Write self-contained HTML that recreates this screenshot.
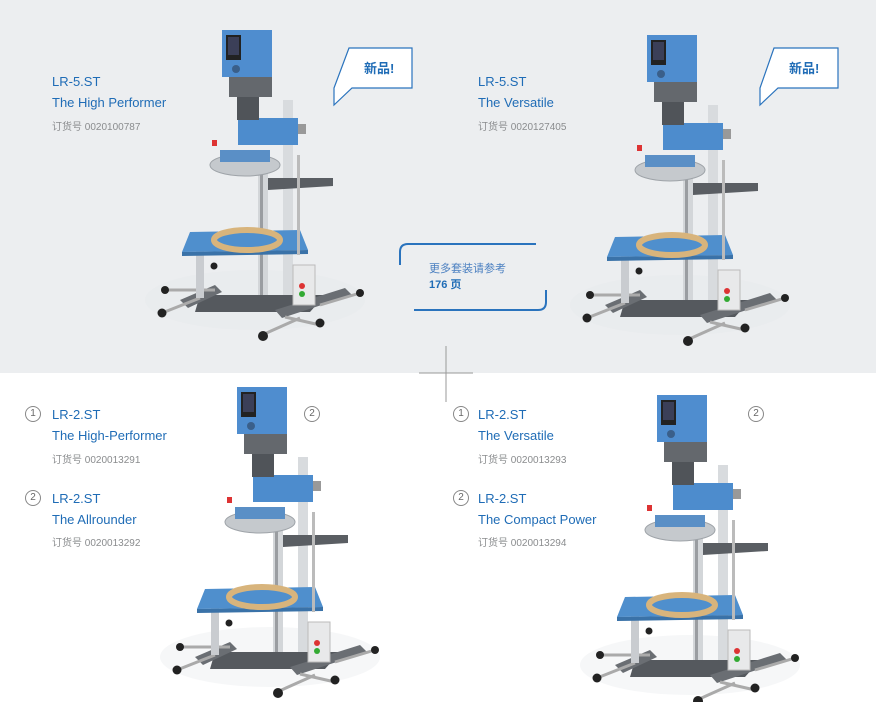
<!DOCTYPE html>
<html><head><meta charset="utf-8"><style>
body{margin:0;width:876px;height:702px;position:relative;background:#fff;overflow:hidden;font-family:"Liberation Sans","Noto Sans CJK SC",sans-serif}
.bg{position:absolute;left:0;top:0;width:876px;height:373px;background:#eceef0}
.t{position:absolute;color:#1f6cb6;font-size:13px;line-height:21px}
.g{position:absolute;color:#8a8c8e;font-size:10px}
.n{position:absolute;width:14px;height:14px;border:1px solid #888;border-radius:50%;font-size:10px;line-height:14px;text-align:center;color:#666}
svg{position:absolute;left:0;top:0}
</style></head><body>
<div class="bg"></div>
<svg width="876" height="702">
<defs>
<g id="m">
 <ellipse cx="255" cy="300" rx="110" ry="30" fill="#e6e8ea" opacity=".35"/>
 <polygon points="200,295 325,295 310,312 195,312" fill="#55595e"/>
 <polygon points="180,300 215,285 222,292 188,308" fill="#6a6e73"/>
 <polygon points="275,310 345,288 352,295 282,318" fill="#6a6e73"/>
 <line x1="165" y1="290" x2="215" y2="290" stroke="#aaa" stroke-width="3"/>
 <line x1="162" y1="313" x2="200" y2="298" stroke="#aaa" stroke-width="3"/>
 <line x1="262" y1="335" x2="300" y2="318" stroke="#aaa" stroke-width="3"/>
 <line x1="285" y1="317" x2="320" y2="325" stroke="#aaa" stroke-width="3"/>
 <line x1="320" y1="305" x2="360" y2="293" stroke="#aaa" stroke-width="3"/>
 <circle cx="165" cy="290" r="4" fill="#222"/><circle cx="162" cy="313" r="4.5" fill="#222"/>
 <circle cx="263" cy="336" r="5" fill="#222"/><circle cx="320" cy="323" r="4.5" fill="#222"/>
 <circle cx="360" cy="293" r="4" fill="#222"/><circle cx="214" cy="266" r="3.5" fill="#222"/>
 <rect x="196" y="248" width="8" height="50" fill="#c9ccd0"/>
 <rect x="258" y="150" width="10" height="145" fill="#d3d6d9"/>
 <rect x="283" y="100" width="10" height="195" fill="#d8dbde"/>
 <rect x="260" y="150" width="3" height="145" fill="#9a9da1"/>
 <polygon points="190,232 300,230 308,250 182,252" fill="#4f8fcd"/>
 <polygon points="182,252 308,250 308,254 182,256" fill="#3a72a8"/>
 <ellipse cx="247" cy="240" rx="33" ry="10" fill="none" stroke="#d8b47c" stroke-width="6"/>
 <rect x="293" y="265" width="22" height="40" fill="#e8e9ea" stroke="#bbb"/>
 <circle cx="302" cy="286" r="3" fill="#d33"/><circle cx="302" cy="294" r="3" fill="#3a3"/>
 <polygon points="268,178 333,178 333,186 268,190" fill="#5a5e63"/>
 <rect x="297" y="155" width="3" height="100" fill="#bbb"/>
 <ellipse cx="245" cy="165" rx="35" ry="11" fill="#c5c9cd" stroke="#9ea3a8"/>
 <rect x="220" y="150" width="50" height="12" fill="#5a8fc6"/>
 <rect x="212" y="140" width="5" height="6" fill="#d33"/>
 <rect x="238" y="118" width="60" height="27" fill="#4d8ccd"/>
 <rect x="298" y="124" width="8" height="10" fill="#999"/>
 <rect x="237" y="95" width="22" height="25" fill="#505459"/>
 <rect x="229" y="75" width="43" height="22" fill="#64686d"/>
 <rect x="222" y="30" width="50" height="47" fill="#4f8dcf"/>
 <rect x="226" y="35" width="15" height="25" fill="#222"/>
 <rect x="228" y="37" width="11" height="18" fill="#3b3f58"/>
 <circle cx="236" cy="69" r="4" fill="#3a5f8a"/>
</g>
</defs>
<use href="#m"/>
<use href="#m" transform="translate(425,5)"/>
<use href="#m" transform="translate(15,357)"/>
<use href="#m" transform="translate(435,365)"/>
<g fill="#fff" stroke="#2a73bd" stroke-width="1.2">
 <path d="M349,48 H412 V88 H352 L334,105 V88 Z"/>
 <path d="M774,48 H838 V88 H778 L760,105 V88 Z"/>
</g>
<g fill="none" stroke="#2a73bd" stroke-width="2">
 <path d="M400,265 V252 Q400,244 408,244 H536"/>
 <path d="M414,310 H538 Q546,310 546,302 V290"/>
</g>
<g stroke="#999" stroke-width="1"><line x1="446" y1="346" x2="446" y2="402"/><line x1="419" y1="373" x2="473" y2="373"/></g>
</svg>
<div class="t" style="left:364px;top:58px;font-size:13px;font-weight:bold">新品!</div>
<div class="t" style="left:789px;top:58px;font-size:13px;font-weight:bold">新品!</div>
<div class="t" style="left:429px;top:261px;font-size:11px;line-height:16px;color:#4a7fc0">更多套装请参考<br><b style="color:#1f6cb6">176 页</b></div>

<div class="t" style="left:52px;top:71px">LR-5.ST<br>The High Performer</div>
<div class="g" style="left:52px;top:118px">订货号 0020100787</div>
<div class="t" style="left:478px;top:71px">LR-5.ST<br>The Versatile</div>
<div class="g" style="left:478px;top:118px">订货号 0020127405</div>

<div class="n" style="left:25px;top:406px">1</div>
<div class="t" style="left:52px;top:404px">LR-2.ST<br>The High-Performer</div>
<div class="g" style="left:52px;top:451px">订货号 0020013291</div>
<div class="n" style="left:25px;top:490px">2</div>
<div class="t" style="left:52px;top:488px">LR-2.ST<br>The Allrounder</div>
<div class="g" style="left:52px;top:534px">订货号 0020013292</div>
<div class="n" style="left:304px;top:406px">2</div>

<div class="n" style="left:453px;top:406px">1</div>
<div class="t" style="left:478px;top:404px">LR-2.ST<br>The Versatile</div>
<div class="g" style="left:478px;top:451px">订货号 0020013293</div>
<div class="n" style="left:453px;top:490px">2</div>
<div class="t" style="left:478px;top:488px">LR-2.ST<br>The Compact Power</div>
<div class="g" style="left:478px;top:534px">订货号 0020013294</div>
<div class="n" style="left:748px;top:406px">2</div>
</body></html>
